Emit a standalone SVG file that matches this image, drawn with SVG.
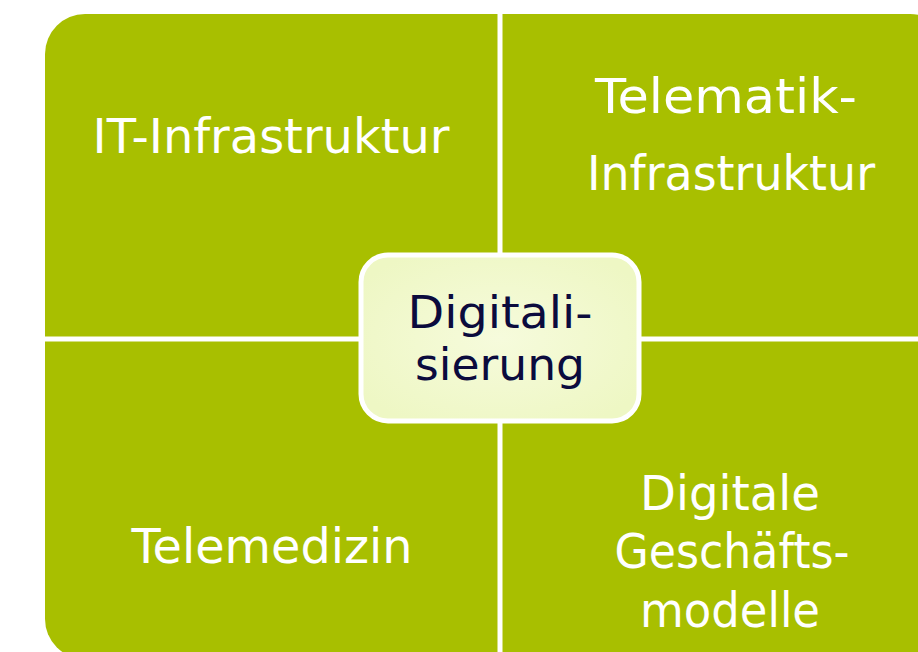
<svg xmlns="http://www.w3.org/2000/svg" width="918" height="652" viewBox="0 0 918 652">
  <defs>
    <radialGradient id="cg" cx="50%" cy="50%" r="60%">
      <stop offset="0" stop-color="#f6fbdc"/>
      <stop offset="1" stop-color="#eef7c4"/>
    </radialGradient>
  </defs>
  <style>
    .q { fill: #a8bf00; }
    .lbl { font-family: "DejaVu Sans", "Open Sans", sans-serif; font-size: 48px; fill: #ffffff; text-anchor: middle; }
    .ctr { font-family: "DejaVu Sans", "Open Sans", sans-serif; font-size: 44px; fill: #0b0b3d; text-anchor: middle; }
    .div { stroke: #ffffff; stroke-width: 5; }
  </style>
  <rect width="918" height="652" fill="#ffffff"/>
  <g id="background">
    <rect class="q" x="45" y="14" width="905" height="645" rx="40" ry="40"/>
  </g>
  <g id="connectors">
    <line class="div" x1="500" y1="0" x2="500" y2="652"/>
    <line class="div" x1="40" y1="339" x2="918" y2="339"/>
  </g>
  <g id="node-it">
    <text class="lbl" x="271" y="153" textLength="357" lengthAdjust="spacingAndGlyphs">IT-Infrastruktur</text>
  </g>
  <g id="node-telematik">
    <text class="lbl" x="726" y="113" textLength="262" lengthAdjust="spacingAndGlyphs">Telematik-</text>
    <text class="lbl" x="731" y="190" textLength="288" lengthAdjust="spacingAndGlyphs">Infrastruktur</text>
  </g>
  <g id="node-telemedizin">
    <text class="lbl" x="272" y="563" textLength="281" lengthAdjust="spacingAndGlyphs">Telemedizin</text>
  </g>
  <g id="node-geschaeft">
    <text class="lbl" x="730" y="510" textLength="180" lengthAdjust="spacingAndGlyphs">Digitale</text>
    <text class="lbl" x="732" y="568" textLength="235" lengthAdjust="spacingAndGlyphs">Geschäfts-</text>
    <text class="lbl" x="730" y="627" textLength="180" lengthAdjust="spacingAndGlyphs">modelle</text>
  </g>
  <g id="node-digitalisierung">
    <rect x="361" y="255" width="278" height="166" rx="27" ry="27" fill="url(#cg)" stroke="#ffffff" stroke-width="5"/>
    <text class="ctr" x="500" y="328" textLength="185" lengthAdjust="spacingAndGlyphs">Digitali-</text>
    <text class="ctr" x="500" y="380" textLength="170" lengthAdjust="spacingAndGlyphs">sierung</text>
  </g>
</svg>
